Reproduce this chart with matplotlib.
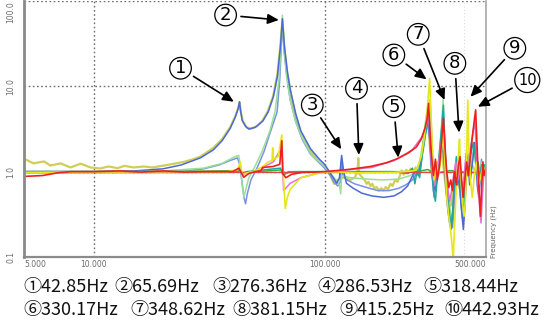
import matplotlib
matplotlib.use('Agg')
import matplotlib.pyplot as plt
from matplotlib.ticker import NullLocator
import numpy as np


# (frequency Hz, magnitude) pairs
khaki = [(5, 1.42), (5.5, 1.25), (6.1, 1.32), (6.5, 1.18), (7.2, 1.25), (7.95, 1.12), (8.8, 1.24), (9.7, 1.12),
         (10.7, 1.09), (11.6, 1.15), (12.7, 1.1), (13.6, 1.17), (14.9, 1.12), (16.5, 1.15), (18, 1.12), (20.9, 1.2),
         (24.5, 1.3), (27, 1.4), (29, 1.5), (33, 1.9), (36, 2.4), (39, 3.3), (41, 4.4), (42.3, 5.6), (42.85, 6.5),
         (43.4, 5.0), (44.3, 3.9), (46, 3.3), (48, 3.2), (51, 3.4), (54, 4.0), (57, 5.2), (60, 7.8), (62.5, 14),
         (64.5, 32), (65.7, 60), (67, 28), (69, 14), (71.2, 8.5), (75, 4.5), (79, 2.8), (87, 1.75), (95, 1.3),
         (100, 1.15), (106, 0.9), (110, 0.72), (114, 0.8), (121, 0.86), (129, 0.8), (135, 0.85), (139, 1.0),
         (140, 1.44), (141, 0.95), (146, 0.85), (150, 0.78), (152, 0.72), (155, 0.76), (158, 0.68), (161, 0.72),
         (164, 0.64), (168, 0.66), (172, 0.6), (176, 0.64), (180, 0.6), (184, 0.66), (188, 0.62), (193, 0.72),
         (197, 0.68), (202, 0.8), (207, 0.76), (212, 0.9), (216, 1.03), (220, 0.92), (226, 1.05), (231, 0.98),
         (236, 1.08), (242, 1.02), (248, 1.12), (254, 1.0), (260, 1.3), (266, 1.7), (272, 2.6), (279, 4.2),
         (285, 2.2), (291, 0.95), (298, 0.7), (306, 1.0), (314, 1.4), (322, 1.8), (329, 1.0), (336, 0.6),
         (344, 0.42), (352, 0.4), (360, 0.6), (368, 1.0), (376, 0.8), (384, 0.65), (392, 0.55), (400, 0.7),
         (410, 1.0), (420, 0.9), (435, 1.2), (450, 1.0), (465, 0.85), (480, 1.1), (500, 1.0)]

slate = [(5, 1.0), (20, 1.0), (25, 1.02), (30, 1.08), (35, 1.2), (39, 1.35), (42, 1.45), (43, 1.2), (43.8, 0.8),
         (44.8, 0.5), (45.5, 0.42), (46.3, 0.55), (48, 0.8), (51, 1.1), (54.6, 1.7), (58, 2.8), (62.3, 5.0),
         (64, 12), (65.7, 55), (67, 24), (69, 12), (71, 7), (75, 3.9), (80, 2.4), (87, 1.6), (100, 1.1), (106, 0.9),
         (110, 0.75), (114, 0.68), (117, 0.75), (118.6, 1.4), (120, 0.9), (125, 0.8), (135, 0.72), (150, 0.66),
         (170, 0.6), (190, 0.6), (210, 0.64), (225, 0.7), (240, 0.8), (250, 0.95), (258, 1.2), (266, 1.8),
         (273, 2.8), (280, 3.8), (286, 2.2), (292, 0.9), (298, 0.5), (304, 0.7), (312, 1.3), (320, 2.4),
         (327, 4.5), (332, 1.8), (338, 0.7), (345, 0.4), (352, 0.28), (358, 0.22), (364, 0.4), (370, 0.8),
         (378, 1.0), (385, 0.6), (392, 0.35), (398, 0.25), (405, 0.45), (412, 1.0), (420, 1.6), (428, 1.0),
         (436, 1.4), (445, 2.0), (451, 2.2), (456, 1.2), (463, 0.7), (470, 0.9), (478, 1.4), (486, 0.9), (500, 1.05)]

lightgreen = [(5, 1.0), (20, 1.02), (30, 1.1), (36, 1.25), (38, 1.35), (41, 1.5), (42.5, 1.55), (43.2, 1.2),
              (44, 0.7), (44.8, 0.5), (45.5, 0.6), (47, 0.85), (50, 1.15), (54, 1.8), (58, 3.0), (61, 5.0),
              (63.5, 12), (64.8, 30), (65.7, 68), (66.8, 30), (68.5, 13), (71, 7), (75, 3.8), (80, 2.5), (88, 1.55),
              (100, 1.15), (108, 0.9), (113, 0.78), (116, 0.7), (117.5, 0.55), (118.5, 0.9), (122, 0.88),
              (130, 0.85), (150, 0.82), (180, 0.8), (210, 0.82), (235, 0.9), (250, 1.0), (258, 1.3), (265, 2.0),
              (272, 3.5), (280, 6.0), (286, 7.0), (291, 3.0), (296, 1.2), (302, 0.7), (308, 1.0), (315, 1.8),
              (321, 3.5), (326, 7.0), (330, 3.0), (336, 1.0), (342, 0.6), (350, 0.35), (356, 0.25), (362, 0.5),
              (368, 1.0), (375, 1.4), (382, 0.9), (390, 0.6), (398, 0.45), (405, 0.9), (412, 1.8), (418, 1.2),
              (425, 0.9), (435, 1.3), (445, 1.9), (452, 1.2), (460, 0.8), (468, 1.0), (476, 1.3), (485, 1.0),
              (500, 1.05)]

blue = [(5, 1.0), (10, 1.0), (15, 1.02), (20, 1.08), (24, 1.2), (29, 1.45), (33, 1.8), (36, 2.3), (39, 3.2),
        (41, 4.3), (42.3, 5.5), (42.85, 6.6), (43.3, 5.2), (44, 4.0), (45.5, 3.4), (47, 3.15), (50, 3.3), (54, 3.9),
        (57, 5.0), (60, 7.5), (62.5, 13), (64.5, 30), (65.7, 62), (67, 30), (69, 15), (71.2, 9), (75, 4.8),
        (79, 3.0), (87, 1.85), (95, 1.4), (100, 1.22), (105, 1.0), (109, 0.85), (113, 0.73), (116, 0.85),
        (118.6, 1.55), (121, 1.0), (124.5, 0.73), (133, 0.64), (145, 0.56), (160, 0.52), (180, 0.5), (200, 0.52),
        (215, 0.58), (229, 0.68), (239, 0.87), (248, 1.0), (255, 0.9), (262, 1.3), (268, 2.2), (274, 3.2),
        (279, 4.2), (284, 3.0), (290, 1.2), (296, 0.7), (302, 0.6), (310, 1.0), (318, 1.5), (325, 2.0), (330, 1.2),
        (336, 0.6), (342, 0.35), (348, 0.25), (353, 0.21), (358, 0.3), (364, 0.6), (370, 1.0), (376, 0.7),
        (382, 0.9), (388, 0.5), (394, 0.3), (399, 0.21), (404, 0.35), (410, 0.8), (418, 1.3), (425, 0.7),
        (432, 1.0), (440, 1.5), (447, 2.2), (452, 1.5), (458, 0.7), (465, 0.5), (472, 0.8), (480, 1.2), (488, 0.9),
        (495, 1.2), (500, 1.0)]

teal = [(5, 1.0), (20, 1.0), (42, 1.0), (43, 1.05), (44, 0.95), (46, 1.0), (64.5, 1.1), (66, 0.9), (70, 1.0),
        (100, 1.0), (200, 1.0), (230, 0.95), (240, 1.1), (246, 0.72), (252, 1.05), (258, 0.85), (265, 1.6),
        (272, 2.5), (278, 3.5), (284, 4.5), (290, 1.5), (296, 0.6), (302, 0.45), (308, 0.9), (316, 2.0), (322, 3.5),
        (327, 6.0), (331, 2.5), (336, 0.9), (342, 0.5), (348, 0.3), (354, 0.22), (360, 0.4), (366, 0.9), (372, 1.5),
        (378, 0.8), (385, 1.2), (392, 0.5), (400, 0.35), (408, 0.7), (415, 1.5), (422, 1.0), (430, 1.6),
        (440, 2.2), (448, 1.6), (455, 0.9), (462, 1.3), (470, 0.8), (478, 1.2), (485, 0.8), (492, 1.2), (500, 1.0)]

green = [(5, 1.0), (20, 1.0), (42.8, 1.03), (44, 0.97), (50, 1.0), (65.7, 1.05), (67, 0.96), (75, 1.0), (150, 1.0),
         (250, 1.0), (280, 1.06), (300, 0.95), (350, 1.03), (420, 0.97), (500, 1.0)]

flat = [(5, 0.97), (50, 0.98), (100, 0.98), (300, 0.98), (500, 0.98)]

magenta = [(5, 1.0), (20, 1.0), (40, 1.0), (42.5, 1.08), (44, 0.92), (47, 0.98), (53, 1.02), (55, 1.15), (60, 1.3),
           (64, 1.75), (65.5, 1.5), (66.5, 0.6), (71, 0.73), (79, 0.85), (95, 0.97), (110, 1.0), (130, 1.06),
           (160, 1.12), (200, 1.35), (240, 1.8), (265, 2.6), (275, 3.5), (282, 5.0), (287, 2.0), (292, 1.0),
           (300, 0.7), (308, 1.1), (318, 1.8), (326, 3.2), (333, 1.3), (340, 0.7), (348, 0.45), (355, 0.6),
           (362, 0.9), (370, 1.3), (378, 0.8), (386, 1.2), (394, 0.6), (402, 0.9), (410, 1.6), (420, 1.2),
           (430, 2.0), (440, 3.0), (448, 3.8), (455, 1.5), (462, 0.8), (470, 0.35), (476, 0.25), (482, 0.5),
           (490, 1.0), (500, 0.9)]

yellow = [(5, 0.97), (10, 0.99), (20, 1.0), (38, 1.0), (42, 1.05), (43.2, 1.3), (44, 0.9), (45, 0.95), (50, 1.02),
          (54, 1.15), (57, 1.3), (59.3, 1.35), (59.6, 1.9), (60.2, 1.4), (63, 1.5), (65.3, 2.7), (66.2, 1.0),
          (67.6, 0.37), (69, 0.5), (71, 0.62), (79, 0.85), (93, 0.95), (105, 1.0), (140, 0.97), (200, 0.98),
          (240, 1.02), (250, 1.05), (262, 1.5), (270, 2.5), (278, 5.0), (285, 12.4), (289, 5.0), (293, 1.5),
          (298, 0.8), (305, 1.3), (312, 0.9), (320, 1.6), (327, 3.0), (332, 1.2), (338, 0.5), (345, 0.3),
          (352, 0.2), (358, 0.12), (361, 0.1), (366, 0.25), (373, 0.8), (380, 1.6), (384, 2.4), (388, 1.0),
          (395, 0.45), (402, 0.3), (408, 0.5), (413, 2.0), (417, 6.9), (421, 2.0), (428, 0.8), (436, 0.5),
          (445, 0.9), (455, 1.3), (465, 0.7), (475, 0.9), (485, 1.2), (495, 1.0), (500, 1.1)]

red = [(5, 0.88), (6, 0.9), (7, 0.97), (8, 1.0), (10, 1.0), (13, 1.02), (16, 0.99), (20, 1.02), (25, 0.99),
       (30, 1.0), (40, 1.0), (42.6, 1.1), (43.2, 1.02), (44.7, 0.86), (47, 0.95), (50, 1.0), (53, 1.02), (54, 1.12),
       (60, 1.15), (64, 1.22), (65.3, 2.3), (66, 0.95), (68, 0.85), (72, 0.93), (80, 0.98), (100, 1.0), (113, 1.03),
       (130, 1.07), (158, 1.15), (185, 1.27), (207, 1.42), (230, 1.65), (250, 1.95), (262, 2.4), (272, 3.2),
       (278, 4.2), (282, 6.3), (286, 3.0), (290, 1.6), (296, 0.9), (302, 1.4), (308, 0.8), (315, 1.2), (322, 2.5),
       (327, 4.2), (332, 2.0), (338, 1.0), (345, 0.65), (352, 0.8), (358, 0.6), (365, 1.0), (372, 0.7), (380, 1.2),
       (386, 1.5), (392, 0.8), (398, 0.5), (405, 0.8), (412, 1.3), (420, 0.9), (428, 1.6), (436, 2.5), (445, 4.0),
       (451, 5.3), (456, 2.5), (462, 1.0), (468, 0.5), (473, 0.3), (478, 0.6), (485, 1.3), (490, 0.9), (500, 1.1)]

series = [
    (khaki, '#cfcf58', 1.6),
    (slate, '#7b90e4', 1.1),
    (lightgreen, '#98e098', 1.1),
    (blue, '#4b6ad6', 1.1),
    (teal, '#1fa89c', 1.1),
    (green, '#3caf45', 1.1),
    (flat, '#e04848', 1.0),
    (magenta, '#e372d3', 1.1),
    (yellow, '#e6e61c', 1.2),
    (red, '#ef1f1f', 1.2),
]

x_ticks = [5, 10, 100, 500]
x_tick_labels = ['5.000', '10.000', '100.000', '500.000']
y_ticks = [0.1, 1, 10, 100]
y_tick_labels = ['0.1', '1.0', '10.0', '100.0']

marker_labels = ['1', '2', '3', '4', '5', '6', '7', '8', '9', '10']
marker_text_at = [(23.8, 16.3), (37.3, 68.5), (88.5, 6.04), (137.5, 9.48), (199.5, 5.77), (199.5, 23.3),
                  (254.4, 40.7), (366.6, 18.6), (666.4, 27.9), (754.4, 11.86)]
marker_tip_at = [(40.5, 6.6), (63.4, 59.9), (118.1, 1.83), (140.8, 1.57), (208.4, 1.46), (276.4, 12.08),
                 (330.7, 6.91), (382.2, 2.87), (428.5, 7.55), (460.9, 5.77)]

peak_freqs = [42.85, 65.69, 276.36, 286.53, 318.44, 330.17, 348.62, 381.15, 415.25, 442.93]
circled = ['①', '②', '③', '④', '⑤', '⑥', '⑦', '⑧', '⑨', '⑩']


W, H = 550, 322
fig = plt.figure(figsize=(W / 100, H / 100), dpi=100)
ax = fig.add_axes([24 / W, 65 / H, 462 / W, 256 / H])

for data, color, lw in series:
    f, m = np.array(data).T
    ax.plot(f, m, color=color, lw=lw, solid_joinstyle='round')

ax.set_xscale('log')
ax.set_yscale('log')
ax.set_xlim(5, 500)
ax.set_ylim(0.1, 100)
ax.xaxis.set_minor_locator(NullLocator())
ax.yaxis.set_minor_locator(NullLocator())
ax.set_xticks(x_ticks)
ax.set_xticklabels(x_tick_labels)
ax.set_yticks(y_ticks)
ax.set_yticklabels(y_tick_labels, rotation=90, va='center')
ax.get_yticklabels()[-1].set_va('top')
ax.get_xticklabels()[0].set_ha('left')
ax.get_xticklabels()[-1].set_ha('right')
ax.tick_params(length=0, labelsize=5.5, labelcolor='#6a6a6a')
ax.tick_params(axis='y', pad=6)
ax.tick_params(axis='x', pad=2)

ax.grid(True, which='major', ls=(0, (1.2, 1.8)), color='#6e6e6e', lw=1.0)
ax.axvline(400, color='#dcdcdc', ls=(0, (1, 2)), lw=0.8, zorder=0)
ax.set_axisbelow(True)

ax.spines['top'].set_visible(False)
ax.spines['left'].set_color('#8a8a8a')
ax.spines['left'].set_linewidth(2.0)
ax.spines['bottom'].set_color('#8a8a8a')
ax.spines['bottom'].set_linewidth(1.6)
ax.spines['right'].set_color('#a8a8a8')
ax.spines['right'].set_linewidth(1.2)

fig.text(493.5 / W, 1 - 232 / H, 'Frequency (Hz)', rotation=90, ha='center', va='center',
         fontsize=5, color='#606060')

for lab, txt_at, tip in zip(marker_labels, marker_text_at, marker_tip_at):
    fs = 10.5 if len(lab) > 1 else 13
    pad = 0.22 if len(lab) > 1 else 0.1
    ax.annotate(lab, xy=tip, xytext=txt_at, xycoords='data', textcoords='data',
                ha='center', va='center', fontsize=fs, annotation_clip=False,
                bbox=dict(boxstyle=f'circle,pad={pad}', fc='white', ec='black', lw=0.9),
                arrowprops=dict(arrowstyle='-|>,head_length=0.55,head_width=0.25', color='black',
                                lw=1.2, shrinkA=3, shrinkB=0, mutation_scale=12),
                zorder=20)

line_x = [[23, 114, 212, 317, 423], [23, 130, 232, 339, 444]]
line_y = [292, 315]
for row in range(2):
    for k in range(5):
        i = row * 5 + k
        fig.text(line_x[row][k] / W, 1 - line_y[row] / H, f'{circled[i]}{peak_freqs[i]:.2f}Hz',
                 ha='left', va='baseline', fontsize=13, color='#111111',
                 family=['Noto Sans CJK KR', 'DejaVu Sans'])

fig.savefig('out.png', dpi=100)
